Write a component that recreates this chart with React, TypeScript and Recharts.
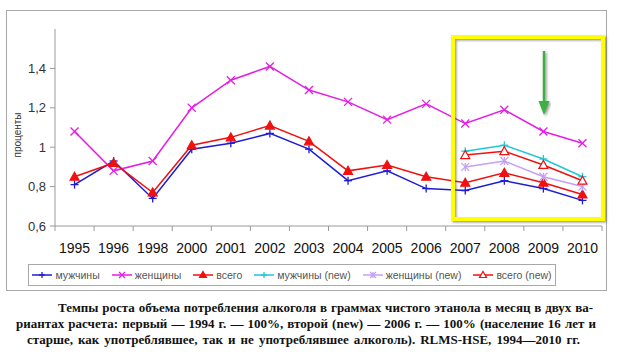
import { ComposedChart, Line, XAxis, YAxis, Legend } from 'recharts'

const years = ['1995', '1996', '1998', '2000', '2001', '2002', '2003', '2004', '2005', '2006', '2007', '2008', '2009', '2010']
const men = [0.81, 0.93, 0.74, 0.99, 1.02, 1.07, 0.99, 0.83, 0.88, 0.79, 0.78, 0.83, 0.79, 0.73]
const women = [1.08, 0.88, 0.93, 1.2, 1.34, 1.41, 1.29, 1.23, 1.14, 1.22, 1.12, 1.19, 1.08, 1.02]
const total = [0.85, 0.92, 0.77, 1.01, 1.05, 1.11, 1.03, 0.88, 0.91, 0.85, 0.82, 0.87, 0.82, 0.76]
const menNew = [null, null, null, null, null, null, null, null, null, null, 0.98, 1.01, 0.94, 0.85]
const womenNew = [null, null, null, null, null, null, null, null, null, null, 0.9, 0.93, 0.85, 0.8]
const totalNew = [null, null, null, null, null, null, null, null, null, null, 0.96, 0.98, 0.91, 0.83]
const yTicks = [0.6, 0.8, 1, 1.2, 1.4]

const data = years.map((year, i) => ({
  year,
  men: men[i],
  women: women[i],
  total: total[i],
  menNew: menNew[i],
  womenNew: womenNew[i],
  totalNew: totalNew[i],
}))

type Marker = 'plus' | 'cross' | 'star' | 'tri' | 'triOpen'

const series: { key: string; name: string; color: string; marker: Marker }[] = [
  { key: 'men', name: 'мужчины', color: '#1c1cd4', marker: 'plus' },
  { key: 'women', name: 'женщины', color: '#e41ee4', marker: 'cross' },
  { key: 'total', name: 'всего', color: '#f01010', marker: 'tri' },
  { key: 'menNew', name: 'мужчины (new)', color: '#1ec8d8', marker: 'plus' },
  { key: 'womenNew', name: 'женщины (new)', color: '#c4a0f4', marker: 'star' },
  { key: 'totalNew', name: 'всего (new)', color: '#f01010', marker: 'triOpen' },
]

const sans = '"Liberation Sans", Arial, sans-serif'
const serif = '"Liberation Serif", "Times New Roman", serif'
const axisGray = '#9a9a9a'

const chartW = 620
const yAxisW = 55
const marginRight = 18
// half of one category slot, so points sit between the tick marks like in Excel
const halfBand = (chartW - yAxisW - marginRight) / years.length / 2

function MarkerShape({ type, cx, cy, color, s = 4 }: { type: Marker; cx: number; cy: number; color: string; s?: number }) {
  if (type === 'plus') {
    return (
      <g stroke={color} strokeWidth={1.3}>
        <line x1={cx - s} x2={cx + s} y1={cy} y2={cy} />
        <line x1={cx} x2={cx} y1={cy - s} y2={cy + s} />
      </g>
    )
  }
  if (type === 'cross' || type === 'star') {
    return (
      <g stroke={color} strokeWidth={1.3}>
        <line x1={cx - s} x2={cx + s} y1={cy - s} y2={cy + s} />
        <line x1={cx - s} x2={cx + s} y1={cy + s} y2={cy - s} />
        {type === 'star' && <line x1={cx} x2={cx} y1={cy - s} y2={cy + s} />}
      </g>
    )
  }
  const pts = `${cx - s - 0.5},${cy + s - 0.5} ${cx + s + 0.5},${cy + s - 0.5} ${cx},${cy - s - 0.5}`
  return (
    <polygon
      points={pts}
      fill={type === 'tri' ? color : '#fff'}
      stroke={color}
      strokeWidth={1.2}
    />
  )
}

const makeDot = (marker: Marker, color: string) => (props: any) => {
  const { cx, cy, index, value } = props
  if (cx == null || cy == null || value == null) return <g key={index} />
  return <MarkerShape key={index} type={marker} cx={cx} cy={cy} color={color} />
}

const XTick = (props: any) => {
  const { x, y, payload, index } = props
  return (
    <g>
      <line x1={x - halfBand} x2={x - halfBand} y1={y} y2={y + 5} stroke={axisGray} />
      {index === years.length - 1 && (
        <line x1={x + halfBand} x2={x + halfBand} y1={y} y2={y + 5} stroke={axisGray} />
      )}
      <text x={x} y={y + 27} textAnchor="middle" fontSize={14} fill="#111" fontFamily={sans}>
        {payload.value}
      </text>
    </g>
  )
}

const LegendBox = () => (
  <div
    style={{
      display: 'flex',
      alignItems: 'center',
      justifyContent: 'center',
      gap: 12,
      height: '100%',
      fontFamily: sans,
      fontSize: 10.5,
      color: '#555',
      whiteSpace: 'nowrap',
    }}
  >
    {series.map(s => (
      <div key={s.key} style={{ display: 'flex', alignItems: 'center', gap: 3 }}>
        <svg width={20} height={10}>
          <line x1={0} x2={20} y1={5} y2={5} stroke={s.color} strokeWidth={1.5} />
          <MarkerShape type={s.marker} cx={10} cy={5} color={s.color} s={3} />
        </svg>
        <span>{s.name}</span>
      </div>
    ))}
  </div>
)

const captionLine = (left: number, width: number) => ({
  marginLeft: left,
  width,
  textAlign: 'justify' as const,
  textAlignLast: 'justify' as const,
})

export default function App() {
  return (
    <div style={{ position: 'absolute', left: 0, top: 0, width: 620, height: 362, background: '#fff' }}>
      <div
        style={{
          position: 'absolute',
          left: 6,
          top: 10,
          width: 601,
          height: 281,
          border: '1px solid #a8a8a8',
          boxSizing: 'border-box',
        }}
      />
      <div style={{ position: 'absolute', left: 0, top: 0 }}>
        <ComposedChart width={chartW} height={300} data={data} margin={{ top: 29, right: marginRight, bottom: 44, left: 0 }}>
          <XAxis
            dataKey="year"
            interval={0}
            tickSize={0}
            tickMargin={0}
            padding={{ left: halfBand, right: halfBand }}
            axisLine={{ stroke: axisGray }}
            tickLine={false}
            tick={<XTick />}
            height={30}
          />
          <YAxis
            domain={[0.6, 1.6]}
            ticks={yTicks}
            width={yAxisW}
            tickSize={5}
            tickMargin={4}
            axisLine={{ stroke: axisGray }}
            tickLine={{ stroke: axisGray }}
            tickFormatter={(v: number) => String(v).replace('.', ',')}
            tick={{ fontSize: 13, fill: '#333', fontFamily: sans }}
            label={{
              content: () => (
                <text transform="translate(21,135) rotate(-90)" textAnchor="middle" fontSize={10} fill="#333" fontFamily={sans}>
                  проценты
                </text>
              ),
            }}
          />
          <Legend
            verticalAlign="middle"
            align="center"
            layout="horizontal"
            content={<LegendBox />}
            wrapperStyle={{
              left: 28,
              top: 264,
              width: 528,
              height: 22,
              border: '1px solid #a8a8a8',
              boxSizing: 'border-box',
              background: '#fff',
            }}
          />
          {series.map(s => (
            <Line
              key={s.key}
              dataKey={s.key}
              name={s.name}
              stroke={s.color}
              strokeWidth={1.5}
              dot={makeDot(s.marker, s.color)}
              activeDot={false}
              isAnimationActive={false}
            />
          ))}
        </ComposedChart>
      </div>
      <svg width={620} height={362} style={{ position: 'absolute', left: 0, top: 0, pointerEvents: 'none' }}>
        <defs>
          <filter id="shadow" x="-10%" y="-10%" width="120%" height="120%">
            <feDropShadow dx={1.5} dy={1.5} stdDeviation={1} floodColor="#555" floodOpacity={0.6} />
          </filter>
        </defs>
        <rect x={453} y={37} width={150} height={182} fill="none" stroke="#ffff00" strokeWidth={4} filter="url(#shadow)" />
        <g filter="url(#shadow)">
          <line x1={544} x2={544} y1={51} y2={104} stroke="#3cb043" strokeWidth={2.5} />
          <polygon points="538.5,101 549.5,101 544,115" fill="#3cb043" />
        </g>
      </svg>
      <div style={{ position: 'absolute', top: 300, fontFamily: serif, fontWeight: 'bold', fontSize: 13, lineHeight: '16px', color: '#111', whiteSpace: 'nowrap' }}>
        <div style={captionLine(58, 535)}>Темпы роста объема потребления алкоголя в граммах чистого этанола в месяц в двух ва-</div>
        <div style={captionLine(16, 580)}>риантах расчета: первый — 1994 г. — 100%, второй (new) — 2006 г. — 100% (население 16 лет и</div>
        <div style={captionLine(27, 553)}>старше, как употреблявшее, так и не употреблявшее алкоголь). RLMS-HSE, 1994—2010 гг.</div>
      </div>
    </div>
  )
}
